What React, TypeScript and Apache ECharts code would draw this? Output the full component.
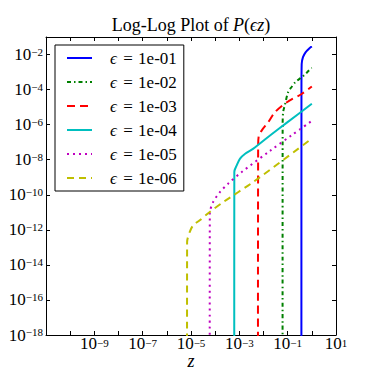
import { useEffect, useRef } from 'react';
import * as echarts from 'echarts';

// legend labels (epsilon values)
const epsLabels = ['1e-01', '1e-02', '1e-03', '1e-04', '1e-05', '1e-06'];
const colors = ['#0000ff', '#008000', '#ff0000', '#00bfbf', '#bf00bf', '#bfbf00'];

// readings of each curve: z values and P values
const zEps1 = [0.370, 0.372, 0.38, 0.43, 0.55, 0.76, 1.0];
const pEps1 = [1e-19, 1e-4, 2.9e-3, 7.1e-3, 1.34e-2, 2.15e-2, 2.9e-2];

const zEps2 = [0.0615, 0.062, 0.065, 0.076, 0.105, 0.145, 0.21, 0.34, 0.55, 0.89, 1.0];
const pEps2 = [1e-19, 1e-6, 5.2e-6, 1.26e-5, 7.2e-5, 1.4e-4, 2.7e-4, 4.5e-4, 7.9e-4, 1.55e-3, 1.7e-3];

const zEps3 = [0.0059, 0.006, 0.0063, 0.0085, 0.0158, 0.030, 0.093, 0.39, 1.0];
const pEps3 = [1e-19, 5e-8, 2.1e-7, 4.7e-7, 1.4e-6, 5.2e-6, 1.9e-5, 5.8e-5, 1.5e-4];

const zEps4 = [6.15e-4, 6.2e-4, 7.8e-4, 1.07e-3, 1.74e-3, 3.8e-3, 0.0186, 0.093, 1.0];
const pEps4 = [1e-19, 2.0e-9, 4.8e-9, 1.15e-8, 2.2e-8, 4.3e-8, 2.4e-7, 1.3e-6, 1.55e-5];

const zEps5 = [5.95e-5, 6.0e-5, 8.3e-5, 1.6e-4, 3.5e-4, 1.26e-3, 0.0186, 0.147, 1.0];
const pEps5 = [1e-19, 8.5e-12, 3.9e-11, 1.45e-10, 4.4e-10, 2.0e-9, 3.2e-8, 2.5e-7, 1.65e-6];

const zEps6 = [6.85e-6, 6.9e-6, 8.9e-6, 1.23e-5, 2.3e-5, 6.0e-5, 2.2e-4, 3.8e-3, 1.0];
const pEps6 = [1e-19, 2.0e-13, 7.6e-13, 1.8e-12, 3.5e-12, 1.05e-11, 3.9e-11, 5.4e-10, 1.6e-7];

// axis ranges (decade exponents) for ticks
const xExpMin = -11;
const xExpMax = 1;
const yExpMin = -18;
const yExpMax = -1;

const zSets = [zEps1, zEps2, zEps3, zEps4, zEps5, zEps6];
const pSets = [pEps1, pEps2, pEps3, pEps4, pEps5, pEps6];
const dashes: any[] = ['solid', [4, 3, 1.5, 3], [8, 5], 'solid', [2, 4], [7, 5]];

const serif = "'Liberation Serif', 'DejaVu Serif', serif";

const supText = (e: number) => (e < 0 ? '\u2212' : '') + Math.abs(e);
const tickRichY = {
  b: { fontSize: 17, fontFamily: serif, color: '#000', lineHeight: 17, verticalAlign: 'bottom' },
  s: { fontSize: 11, fontFamily: serif, color: '#000', lineHeight: 11, verticalAlign: 'top', padding: [0, 0, 8, 0] },
};
const tickRichX = {
  b: { fontSize: 17, fontFamily: serif, color: '#000', lineHeight: 15, verticalAlign: 'bottom' },
  s: { fontSize: 11, fontFamily: serif, color: '#000', lineHeight: 11, verticalAlign: 'top', padding: [0, 0, 6, 0] },
};

const tickAxisBase = {
  type: 'value',
  axisTick: { show: true, inside: true, length: 4, lineStyle: { color: '#000', width: 1 } },
  splitLine: { show: false },
};

export default function App() {
  const ref = useRef<HTMLDivElement>(null);
  useEffect(() => {
    if (!ref.current) return;
    const chart = echarts.init(ref.current, undefined, { renderer: 'svg' });
    const series = epsLabels.map((lab, i) => ({
      name: '\u03f5 = ' + lab,
      type: 'line',
      xAxisIndex: 0,
      yAxisIndex: 0,
      data: zSets[i].map((z, j) => [z, pSets[i][j]]),
      symbol: 'none',
      showSymbol: false,
      smooth: 0.3,
      clip: true,
      lineStyle: { color: colors[i], width: 2, type: dashes[i] },
      itemStyle: { color: colors[i] },
    }));
    const option: any = {
      animation: false,
      backgroundColor: '#fff',
      grid: { left: 46, top: 37, width: 290, height: 298, containLabel: false, outerBoundsMode: 'none' },
      graphic: [
        {
          type: 'text',
          x: 191,
          y: 25,
          style: {
            text: '{n|Log-Log Plot of }{i|P}{n|(}{i|\u03f5z}{n|)}',
            textAlign: 'center',
            textVerticalAlign: 'middle',
            rich: {
              n: { fontSize: 18, fontFamily: serif, fill: '#000' },
              i: { fontSize: 18, fontFamily: serif, fontStyle: 'italic', fill: '#000' },
            },
          },
        },
      ],
      legend: {
        orient: 'vertical',
        left: 55,
        top: 45,
        backgroundColor: '#fff',
        borderColor: '#000',
        borderWidth: 1,
        borderRadius: 0,
        padding: [3, 7, 3, 11],
        itemWidth: 25,
        itemHeight: 14,
        itemGap: 4,
        itemStyle: { opacity: 0 },
        formatter: (name: string) => '{i|\u03f5} {e|=} {n|' + name.slice(4) + '}',
        textStyle: {
          padding: [0, 0, 0, 13],
          rich: {
            i: { fontSize: 17, fontFamily: serif, fontStyle: 'italic', color: '#000', lineHeight: 20, height: 20 },
            e: { fontSize: 17, fontFamily: serif, color: '#000', lineHeight: 20, height: 20, padding: [0, 2, 0, 3] },
            n: { fontSize: 17, fontFamily: serif, color: '#000', lineHeight: 20, height: 20 },
          },
        },
        data: series.map((s) => s.name),
      },
      xAxis: [
        {
          type: 'log',
          logBase: 10,
          min: Math.pow(10, xExpMin),
          max: Math.pow(10, xExpMax),
          position: 'bottom',
          name: 'z',
          nameLocation: 'middle',
          nameGap: 20,
          nameTextStyle: { fontFamily: serif, fontStyle: 'italic', fontSize: 18, lineHeight: 12, color: '#000' },
          axisLine: { show: true, onZero: false, lineStyle: { color: '#000', width: 1 } },
          axisTick: { show: false },
          splitLine: { show: false },
          axisLabel: { show: false },
        },
        {
          ...tickAxisBase,
          min: xExpMin,
          max: xExpMax,
          interval: 1,
          position: 'bottom',
          axisLine: { show: false, onZero: false },
          axisLabel: {
            show: true,
            margin: 2,
            showMinLabel: false,
            rich: tickRichX,
            formatter: (e: number) => {
              const r = Math.round(e);
              if (r % 2 === 0) return '';
              return '{b|10}{s|' + supText(r) + '}';
            },
          },
        },
        {
          ...tickAxisBase,
          min: xExpMin,
          max: xExpMax,
          interval: 1,
          position: 'top',
          axisLine: { show: true, onZero: false, lineStyle: { color: '#000', width: 1 } },
          axisLabel: { show: false },
        },
      ],
      yAxis: [
        {
          type: 'log',
          logBase: 10,
          min: Math.pow(10, yExpMin),
          max: Math.pow(10, yExpMax),
          position: 'left',
          axisLine: { show: true, onZero: false, lineStyle: { color: '#000', width: 1 } },
          axisTick: { show: false },
          splitLine: { show: false },
          axisLabel: { show: false },
        },
        {
          ...tickAxisBase,
          min: yExpMin,
          max: yExpMax,
          interval: 2,
          position: 'left',
          axisLine: { show: false, onZero: false },
          axisLabel: {
            show: true,
            margin: 3,
            rich: tickRichY,
            formatter: (e: number) => {
              const r = Math.round(e);
              if (r % 2 !== 0) return '';
              return '{b|10}{s|' + supText(r) + '}';
            },
          },
        },
        {
          ...tickAxisBase,
          min: yExpMin,
          max: yExpMax,
          interval: 2,
          position: 'right',
          axisLine: { show: true, onZero: false, lineStyle: { color: '#000', width: 1 } },
          axisLabel: { show: false },
        },
      ],
      series,
    };
    chart.setOption(option);
    return () => chart.dispose();
  }, []);
  return (
    <div
      ref={ref}
      style={{ position: 'fixed', left: 0, top: 0, width: 373, height: 373, background: '#fff' }}
    />
  );
}
